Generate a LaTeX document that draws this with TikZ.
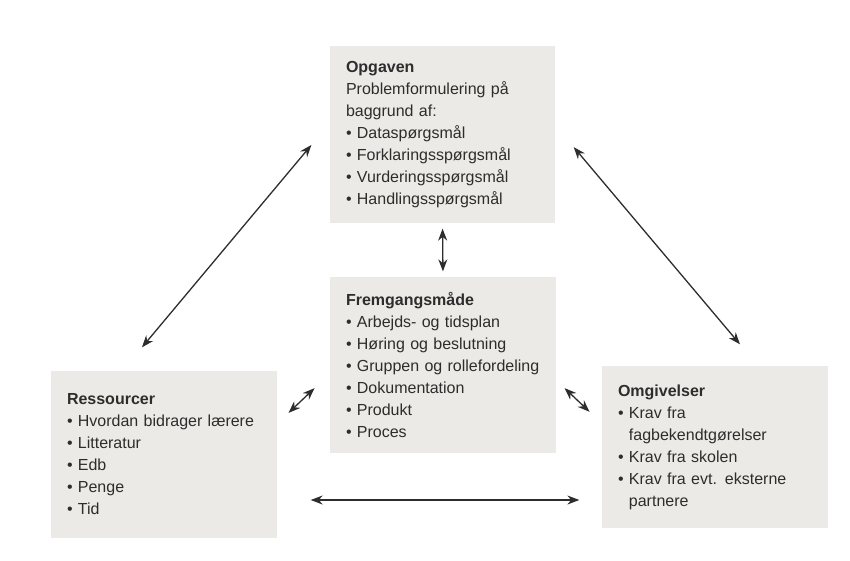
\documentclass[tikz,border=0pt]{standalone}
\usepackage{fontspec}
\setmainfont{Liberation Sans}
\usepackage{tikz}
\usetikzlibrary{arrows.meta,positioning}
\definecolor{boksgraa}{RGB}{236,234,230}
\definecolor{tekstgraa}{RGB}{45,45,45}
\newcommand{\pkt}{\textbullet\ }
\newcommand{\indryk}{\hphantom{\textbullet\ }}

\begin{document}
\begin{tikzpicture}[x=1pt, y=-1pt, line width=1.3pt]
   \useasboundingbox (0,0) rectangle (850,560);
   \begin{scope}[every node/.style={rectangle, fill=boksgraa, text=tekstgraa, align=left, inner xsep=16pt, inner ysep=0pt, font=\fontsize{16}{22}\selectfont}]
    \node (opg) [minimum height=177pt, text width=193pt] at (442.5,134.5)
      {\textbf{Opgaven}\\ Problemformulering på\\ baggrund af:\\ \pkt Dataspørgsmål\\ \pkt Forklaringsspørgsmål\\ \pkt Vurderingsspørgsmål\\ \pkt Handlingsspørgsmål};
    \node (frem) [minimum height=176pt, text width=194pt] at (443,365)
      {\textbf{Fremgangsmåde}\\ \pkt Arbejds- og tidsplan\\ \pkt Høring og beslutning\\ \pkt Gruppen og rollefordeling\\ \pkt Dokumentation\\ \pkt Produkt\\ \pkt Proces};
    \node (res) [minimum height=167pt, text width=194pt] at (164,454.5)
      {\textbf{Ressourcer}\\ \pkt Hvordan bidrager lærere\\ \pkt Litteratur\\ \pkt Edb\\ \pkt Penge\\ \pkt Tid\\[10pt]};
    \node (omg) [minimum height=162pt, text width=194pt] at (715,447)
      {\textbf{Omgivelser}\\ \pkt Krav fra\\ \indryk fagbekendtgørelser\\ \pkt Krav fra skolen\\ \pkt Krav fra evt. eksterne\\ \indryk partnere};
   \end{scope}
   \begin{scope}[every edge/.style={draw=tekstgraa, line width=1.3pt, {Stealth[length=12pt,width=9pt]}-{Stealth[length=12pt,width=9pt]}}]
    \path ([yshift=11pt]opg.west) edge [shorten <=28pt, shorten >=30pt] ([xshift=-41.3pt]res.north);
    \path ([yshift=8.8pt]opg.east) edge [shorten <=28pt, shorten >=27.5pt] ([xshift=42.7pt]omg.north);
    \path (opg.south) edge [shorten <=5pt, shorten >=5pt] (frem.north);
    \path ([yshift=31.3pt]res.east) edge [shorten <=15pt, shorten >=20.4pt] ([yshift=-9.1pt]frem.west);
    \path ([yshift=-15.6pt]frem.east) edge [shorten <=10.9pt, shorten >=16.3pt] ([yshift=24pt]omg.west);
    \path ([yshift=-45.5pt]res.east) edge [shorten <=33pt, shorten >=22pt] ([yshift=-53pt]omg.west);
   \end{scope}
\end{tikzpicture}
\end{document}
